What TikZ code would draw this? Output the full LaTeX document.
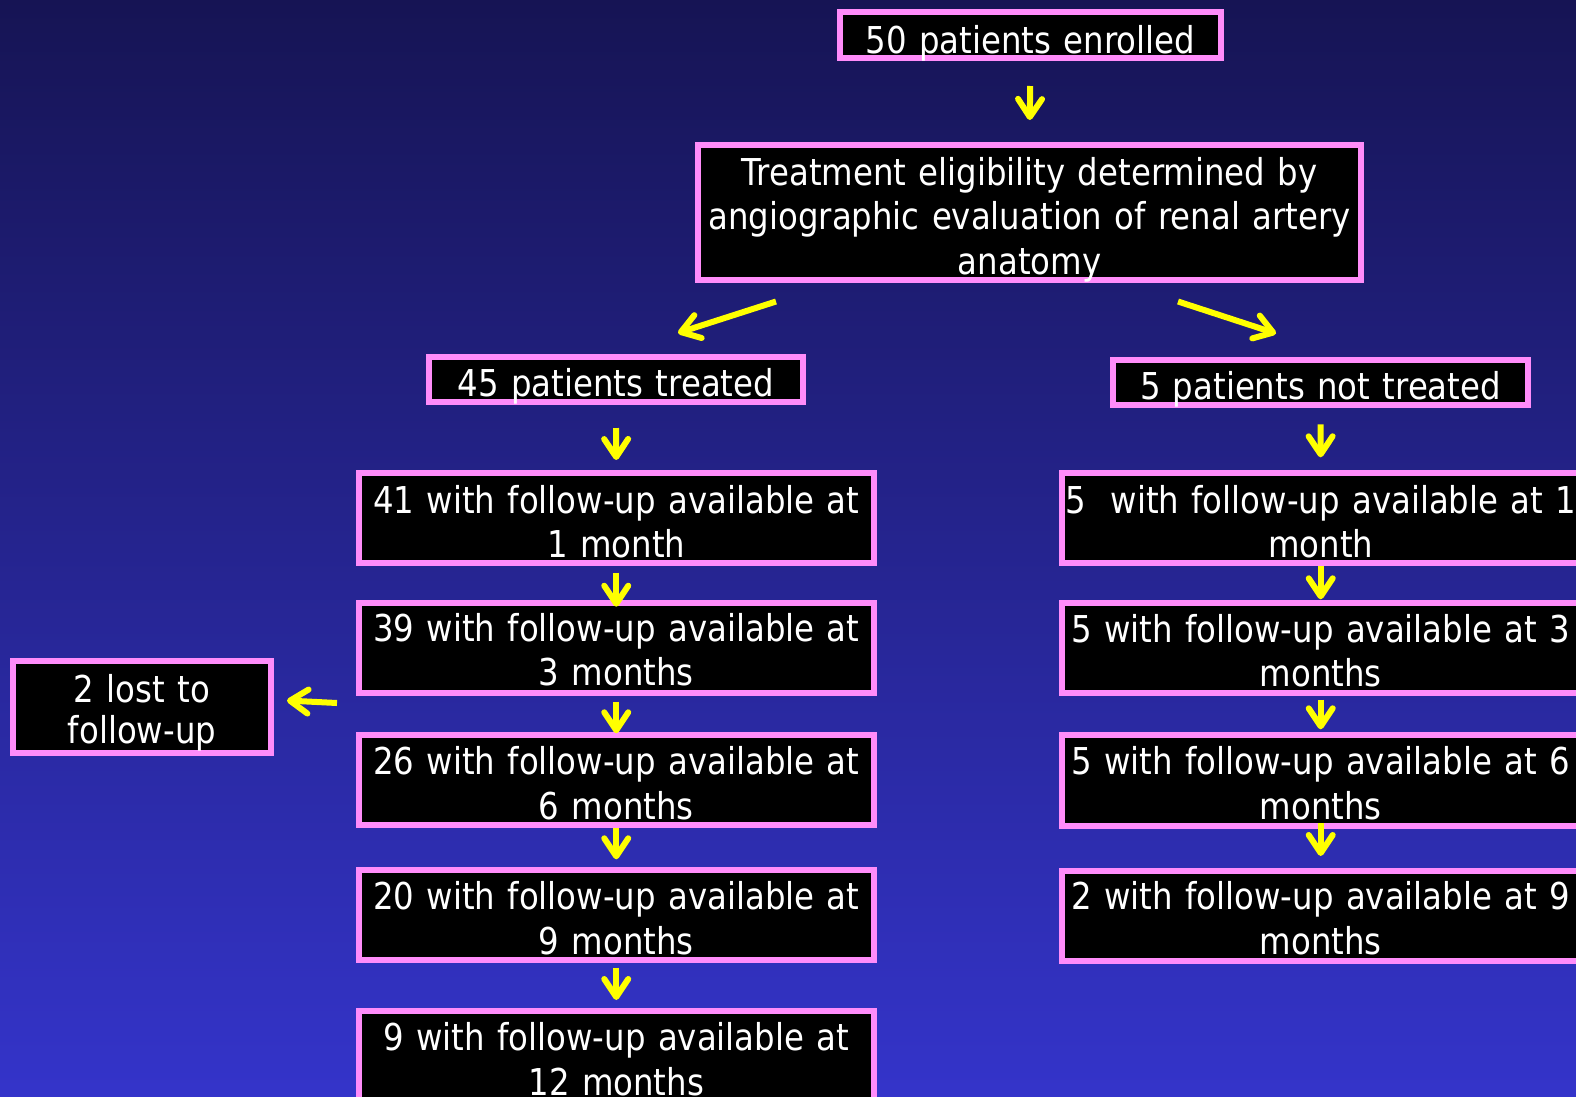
\documentclass[tikz,border=0pt]{standalone}
\usepackage{fontspec}
\setmainfont{DejaVu Sans}[FakeStretch=0.875]
\usetikzlibrary{arrows.meta}
\definecolor{boxpink}{RGB}{255,140,250}
\definecolor{arrowyellow}{RGB}{255,255,0}
\definecolor{bgtop}{RGB}{22,20,84}
\definecolor{bgmid}{RGB}{40,40,155}
\definecolor{bgbot}{RGB}{52,52,202}
\newcommand\boxfont{\fontsize{37bp}{44.5bp}\selectfont}
\newcommand\lostfont{\fontsize{37bp}{41bp}\selectfont}
\begin{document}
\begin{tikzpicture}[x=1bp,y=-1bp,
  fbox/.style={draw=boxpink, line width=6bp, fill=black, text=white,
    inner sep=0pt, align=center, font=\boxfont, anchor=north},
  arr/.style={draw=arrowyellow, line width=6bp,
    -{Straight Barb[length=18bp,width=24bp,round]}}]
\useasboundingbox (0,0) rectangle (1576,1096);
\clip (0,0) rectangle (1576,1096);
\shade[top color=bgtop, middle color=bgmid, bottom color=bgbot] (0,0) rectangle (1576,1096);

% boxes
\node[fbox, text width=381bp, text height=41bp, text depth=5bp] (n50) at (1030.5,9) {50 patients enrolled};
\node[fbox, text width=663bp, text height=40bp, text depth=94.5bp] (elig) at (1029.5,142)
  {Treatment eligibility determined by\\angiographic evaluation of renal artery\\anatomy};
\node[fbox, text width=374bp, text height=39bp, text depth=6bp] (n45) at (616,354) {45 patients treated};
\node[fbox, text width=415bp, text height=39.7bp, text depth=5.3bp] (nnot) at (1320.5,357) {5 patients not treated};

\node[fbox, text width=515.5bp, text height=40bp, text depth=49.7bp] (n41) at (616.25,470)
  {41 with follow-up available at\\1 month};
\node[fbox, text width=515.5bp, text height=38.3bp, text depth=51.4bp] (n39) at (616.25,600)
  {39 with follow-up available at\\3 months};
\node[fbox, text width=515.5bp, text height=39.7bp, text depth=50bp] (n26) at (616.25,732)
  {26 with follow-up available at\\6 months};
\node[fbox, text width=515.5bp, text height=39.4bp, text depth=50.3bp] (n20) at (616.25,867.3)
  {20 with follow-up available at\\9 months};
\node[fbox, text width=515.5bp, text height=39.4bp, text depth=100bp] (n9) at (616.25,1008.3)
  {9 with follow-up available at\\12 months};

\node[fbox, text width=517.4bp, text height=39.7bp, text depth=50.3bp] (r1) at (1320.7,470.3)
  {5~\ with follow-up available at 1\\month};
\node[fbox, text width=517.4bp, text height=39.6bp, text depth=50.4bp] (r3) at (1320.7,599.7)
  {5 with follow-up available at 3\\months};
\node[fbox, text width=517.4bp, text height=39.7bp, text depth=51bp] (r6) at (1320.7,732)
  {5 with follow-up available at 6\\months};
\node[fbox, text width=517.4bp, text height=39.2bp, text depth=51.1bp] (r9) at (1320.7,867.5)
  {2 with follow-up available at 9\\months};

\node[fbox, font=\lostfont, text width=258bp, text height=41bp, text depth=50.7bp] (lost) at (142,658.3)
  {2 lost to\\follow-up};

% free arrow ends
\coordinate (dl1) at (776,301.5);
\coordinate (dl2) at (678,333);
\coordinate (dr1) at (1178,301.5);
\coordinate (dr2) at (1276,333.5);
\coordinate (la1) at (337,703);
\coordinate (la2) at (287,700.5);

% arrows
\draw[arr, shorten <=25bp, shorten >=22bp] (n50.south) -- (elig.north);
\draw[arr] (dl1) -- (dl2);
\draw[arr] (dr1) -- (dr2);
\draw[arr, shorten <=23bp, shorten >=10bp] (n45.south) -- (n41.north);
\draw[arr, shorten <=7bp, shorten >=-6.7bp] (n41.south) -- (n39.north);
\draw[arr, shorten <=6bp, shorten >=-1.3bp] (n39.south) -- (n26.north);
\draw[arr, shorten <=0bp, shorten >=8bp] (n26.south) -- (n20.north);
\draw[arr, shorten <=4.7bp, shorten >=8.3bp] (n20.south) -- (n9.north);
\draw[arr, shorten <=16.3bp, shorten >=13bp] (nnot.south) -- (r1.north);
\draw[arr, shorten <=0bp, shorten >=0.4bp] (r1.south) -- (r3.north);
\draw[arr, shorten <=3.8bp, shorten >=2.7bp] (r3.south) -- (r6.north);
\draw[arr, shorten <=-5.4bp, shorten >=11.5bp] (r6.south) -- (r9.north);
\draw[arr] (la1) -- (la2);
\end{tikzpicture}
\end{document}
